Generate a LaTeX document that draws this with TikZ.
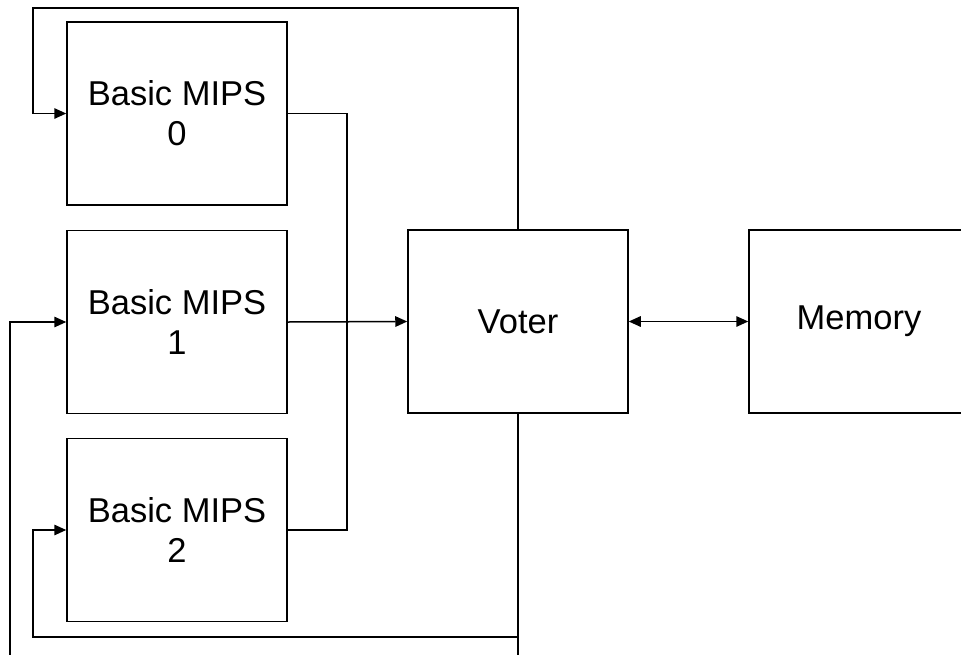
\documentclass[tikz,border=0pt]{standalone}
\usepackage{fontspec}
\setmainfont{Liberation Sans}
\usetikzlibrary{arrows.meta}
\begin{document}
\begin{tikzpicture}[x=1pt,y=-1pt,
  blk/.style={draw, line width=1.5pt, minimum width=220pt, minimum height=183pt, inner sep=0pt, align=center,
    font=\fontsize{34.5}{40}\selectfont},
  conn/.style={line width=1.5pt},
  arr/.style={conn, -{Triangle[length=12pt,width=10.5pt]}},
  biarr/.style={conn, {Triangle[length=12pt,width=10.5pt]}-{Triangle[length=12pt,width=10.5pt]}}]
\useasboundingbox (0,0) rectangle (961,654);
\clip (0,0) rectangle (961,654);
\fill[white] (0,0) rectangle (961,654);
\node[blk] (b0) at (177,113.5) {Basic MIPS\\0};
\node[blk] (b1) at (177,322) {Basic MIPS\\1};
\node[blk] (b2) at (177,530) {Basic MIPS\\2};
\node[blk] (voter) at (518,321.5) {Voter};
\node[blk, minimum width=240pt] (mem) at (869,321.5) {\hspace*{-20pt}Memory};
\coordinate (tr) at (518,8);
\coordinate (tl) at (33,8);
\coordinate (bus) at (347,322);
\coordinate (j1) at (518,637);
\coordinate (c2) at (33,637);
\coordinate (j2) at (518,690);
\coordinate (c1) at (10,690);
\draw[arr] (voter.north) -- (tr) -- (tl) |- (b0.west);
\draw[conn] (b0.east) -| (bus) |- (b2.east);
\draw[arr] (b1.east) -- (voter.west);
\draw[biarr] (voter.east) -- (mem.west);
\draw[arr] (voter.south) -- (j1) -- (c2) |- (b2.west);
\draw[arr] (j1) -- (j2) -- (c1) |- (b1.west);
\end{tikzpicture}
\end{document}
